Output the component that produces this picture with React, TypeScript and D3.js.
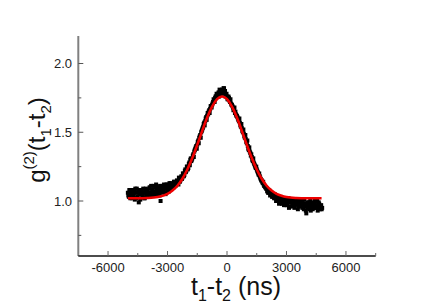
import React from "react";
import * as d3 from "d3";

// measured g2 points, time step 50 ns from -5000 ns
const tStart = -5000;
const tStep = 50;
const g2Values = [
  1.06, 1.03, 1.07, 1.05, 1.02,
  1.08, 1.04, 1.01, 1.06, 1.09,
  1.03, 0.99, 1.07, 1.05, 1.08,
  1.04, 1.06, 1.02, 1.09, 1.05,
  1.07, 1.03, 1.1, 1.06, 1.04,
  1.08, 1.11, 1.05, 1.07, 1.09,
  1.06, 1.1, 1.04, 1.0, 1.08,
  1.11, 1.07, 1.09, 1.05, 1.12,
  1.08, 1.1, 1.13, 1.09, 1.11,
  1.12, 1.1, 1.14, 1.11, 1.13,
  1.14, 1.12, 1.16, 1.15, 1.18,
  1.17, 1.2, 1.19, 1.23, 1.22,
  1.25, 1.24, 1.28, 1.3, 1.29,
  1.31, 1.34, 1.36, 1.38, 1.4,
  1.41, 1.44, 1.46, 1.48, 1.5,
  1.52, 1.54, 1.57, 1.58, 1.61,
  1.62, 1.63, 1.66, 1.67, 1.69,
  1.7, 1.72, 1.73, 1.75, 1.76,
  1.77, 1.78, 1.76, 1.8, 1.79,
  1.81, 1.78, 1.82, 1.8, 1.77,
  1.76, 1.74, 1.75, 1.72, 1.71,
  1.7, 1.68, 1.67, 1.64, 1.63,
  1.62, 1.6, 1.58, 1.57, 1.54,
  1.53, 1.5, 1.49, 1.46, 1.45,
  1.42, 1.4, 1.37, 1.36, 1.33,
  1.32, 1.29, 1.28, 1.26, 1.24,
  1.23, 1.21, 1.19, 1.18, 1.16,
  1.15, 1.13, 1.12, 1.11, 1.1,
  1.09, 1.08, 1.06, 1.07, 1.05,
  1.05, 1.04, 1.03, 1.05, 1.02,
  1.03, 1.01, 1.02, 0.99, 1.03,
  1.0, 1.02, 0.98, 1.01, 0.97,
  1.0, 0.98, 1.02, 0.96, 0.99,
  1.01, 0.97, 0.99, 0.95, 1.0,
  0.98, 1.01, 0.96, 0.99, 0.97,
  1.0, 0.95, 0.98, 1.01, 0.96,
  0.91, 0.99, 0.97, 0.94, 1.0,
  0.96, 0.99, 0.95, 0.98, 0.97,
  0.95, 1.0, 0.96, 0.98, 0.94,
  0.97, 0.95,
];

// second pass of points, same step, starting at -4975 ns
const tStartB = -4975;
const g2ValuesB = [
  1.04, 1.08, 1.02, 1.06, 1.05,
  1.03, 1.07, 1.09, 1.02, 1.06,
  1.08, 1.05, 1.01, 1.07, 1.03,
  1.09, 1.02, 1.07, 1.04, 1.08,
  1.05, 1.09, 1.06, 1.11, 1.07,
  1.06, 1.04, 1.1, 1.12, 1.05,
  1.09, 1.07, 1.11, 1.06, 1.1,
  1.08, 1.12, 1.06, 1.1, 1.09,
  1.12, 1.07, 1.1, 1.13, 1.1,
  1.11, 1.14, 1.12, 1.13, 1.15,
  1.13, 1.17, 1.14, 1.17, 1.16,
  1.2, 1.18, 1.22, 1.21, 1.25,
  1.23, 1.27, 1.26, 1.31, 1.3,
  1.33, 1.32, 1.37, 1.39, 1.38,
  1.43, 1.42, 1.47, 1.46, 1.51,
  1.53, 1.56, 1.55, 1.6, 1.59,
  1.64, 1.65, 1.64, 1.69, 1.68,
  1.71, 1.74, 1.72, 1.76, 1.78,
  1.76, 1.79, 1.81, 1.78, 1.8,
  1.79, 1.82, 1.79, 1.76, 1.78,
  1.74, 1.76, 1.73, 1.74, 1.7,
  1.69, 1.66, 1.68, 1.65, 1.62,
  1.61, 1.59, 1.6, 1.55, 1.56,
  1.51, 1.52, 1.47, 1.48, 1.43,
  1.44, 1.38, 1.39, 1.35, 1.34,
  1.3, 1.31, 1.27, 1.25, 1.25,
  1.22, 1.2, 1.2, 1.17, 1.15,
  1.14, 1.14, 1.11, 1.1, 1.09,
  1.07, 1.06, 1.08, 1.04, 1.06,
  1.03, 1.05, 1.02, 1.03, 1.0,
  1.01, 1.03, 0.98, 1.01, 1.0,
  0.98, 1.0, 0.97, 1.02, 0.99,
  0.97, 1.01, 0.95, 0.99, 1.0,
  0.96, 0.98, 1.01, 0.97, 0.98,
  1.0, 0.94, 0.98, 0.96, 1.0,
  0.97, 0.99, 0.94, 0.97, 0.93,
  0.98, 0.95, 0.99, 0.96, 0.93,
  0.98, 0.94, 0.97, 1.0, 0.95,
  0.97, 0.93, 0.99, 0.95, 0.96,
  0.94,
];

// gaussian fit curve, sampled every 250 ns
const fitT = [
  -5000, -4500, -4000, -3500, -3000, -2750, -2500, -2250, -2000, -1750,
  -1500, -1250, -1000, -750, -500, -250, 0, 250, 500, 750, 1000, 1250,
  1500, 1750, 2000, 2250, 2500, 2750, 3000, 3500, 4000, 4500, 4770,
];
const fitG2 = [
  1.02, 1.02, 1.022, 1.029, 1.052, 1.076, 1.111, 1.162, 1.229, 1.312,
  1.408, 1.51, 1.607, 1.687, 1.741, 1.76, 1.741, 1.687, 1.607, 1.51, 1.408,
  1.312, 1.229, 1.162, 1.111, 1.076, 1.052, 1.038, 1.029, 1.022, 1.02, 1.02,
  1.02,
];

const xMajor = [-6000, -3000, 0, 3000, 6000];
const xMinor = [-4500, -1500, 1500, 4500, 7500];
const yMajor = [1.0, 1.5, 2.0];
const yMinor = [0.75, 1.25, 1.75];

const W = 436;
const H = 307;
const left = 78.3;
const right = 375.7;
const top = 36;
const bottom = 256;
const font = "Arial, 'Liberation Sans', sans-serif";

export default function App() {
  const x = d3.scaleLinear().domain([-7500, 7500]).range([left, right]);
  const y = d3.scaleLinear().domain([0.6, 2.2]).range([bottom, top]);

  const points = g2Values
    .map((v, i) => ({ t: tStart + i * tStep, v }))
    .concat(g2ValuesB.map((v, i) => ({ t: tStartB + i * tStep, v })));
  const fit = fitT.map((t, i) => ({ t, v: fitG2[i] }));

  const line = d3
    .line<{ t: number; v: number }>()
    .x((d) => x(d.t))
    .y((d) => y(d.v))
    .curve(d3.curveMonotoneX);

  return (
    <svg
      width={W}
      height={H}
      style={{ position: "absolute", left: 0, top: 0, background: "#fff" }}
      fontFamily={font}
    >
      {points.map((d, i) => (
        <rect
          key={i}
          x={x(d.t) - 2}
          y={y(d.v) - 2}
          width={4}
          height={4}
          fill="#000"
        />
      ))}
      <path d={line(fit) || ""} fill="none" stroke="#ee0000" strokeWidth={2.6} />

      {/* y axis */}
      <line x1={left} x2={left} y1={top} y2={bottom} stroke="#808080" strokeWidth={2} />
      {yMajor.map((v) => (
        <g key={v}>
          <line x1={left} x2={left + 5} y1={y(v)} y2={y(v)} stroke="#555" strokeWidth={1} />
          <text x={72} y={y(v) + 4.5} fontSize={13} textAnchor="end" fill="#222">
            {v.toFixed(1)}
          </text>
        </g>
      ))}
      {yMinor.map((v) => (
        <line key={v} x1={left} x2={left + 3} y1={y(v)} y2={y(v)} stroke="#555" strokeWidth={1} />
      ))}

      {/* x axis */}
      <line x1={left} x2={right} y1={bottom} y2={bottom} stroke="#111" strokeWidth={1.6} />
      {xMajor.map((v) => (
        <g key={v}>
          <line x1={x(v)} x2={x(v)} y1={bottom} y2={bottom - 5} stroke="#666" strokeWidth={1} />
          <text x={x(v)} y={272} fontSize={13} textAnchor="middle" fill="#222">
            {v}
          </text>
        </g>
      ))}
      {xMinor.map((v) => (
        <line key={v} x1={x(v)} x2={x(v)} y1={bottom} y2={bottom - 3} stroke="#666" strokeWidth={1} />
      ))}

      {/* axis titles */}
      <text x={236} y={295} fontSize={25} textAnchor="middle" fill="#111">
        t<tspan fontSize={16} dy={6}>1</tspan>
        <tspan dy={-6}>-t</tspan>
        <tspan fontSize={16} dy={6}>2</tspan>
        <tspan dy={-6}> (ns)</tspan>
      </text>
      <text
        transform={`translate(45,140) rotate(-90)`}
        fontSize={24}
        textAnchor="middle"
        fill="#111"
      >
        g<tspan fontSize={15} dy={-11}>(2)</tspan>
        <tspan dy={11}>(t</tspan>
        <tspan fontSize={15} dy={6}>1</tspan>
        <tspan dy={-6}>-t</tspan>
        <tspan fontSize={15} dy={6}>2</tspan>
        <tspan dy={-6}>)</tspan>
      </text>
    </svg>
  );
}
